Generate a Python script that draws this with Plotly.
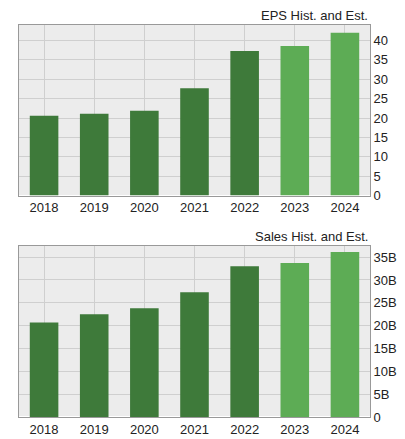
import plotly.graph_objects as go
from plotly.subplots import make_subplots

years = ["2018","2019","2020","2021","2022","2023","2024"]
eps = [20.6, 21.1, 21.9, 27.7, 37.3, 38.6, 42.0]
sales = [20.7, 22.5, 23.8, 27.3, 33.0, 33.7, 36.1]
colors = ["#3e7a3a"]*5 + ["#5dac55"]*2

fig = make_subplots(rows=2, cols=1, vertical_spacing=0.12)
fig.add_trace(go.Bar(x=years, y=eps, marker=dict(color=colors, line=dict(width=0)), width=0.57), 1, 1)
fig.add_trace(go.Bar(x=years, y=sales, marker=dict(color=colors, line=dict(width=0)), width=0.57), 2, 1)

ax = dict(showgrid=True, gridcolor="#cfcfcf", showline=True, linecolor="#999", mirror=True,
          ticks="", tickfont=dict(family="Liberation Sans, Arial", size=13, color="#222"))
fig.update_xaxes(**ax)
fig.update_yaxes(**ax, side="right")
fig.update_layout(
    width=405, height=439, showlegend=False, paper_bgcolor="white", plot_bgcolor="#ececec",
    margin=dict(l=10, r=43, t=17, b=24),
    xaxis=dict(domain=[0,1]), yaxis=dict(domain=[0.565,1], range=[0,44], dtick=5),
    xaxis2=dict(domain=[0,1]), yaxis2=dict(domain=[0,0.437], range=[0,37.5], dtick=5,
        tickvals=[0,5,10,15,20,25,30,35], ticktext=["0","5B","10B","15B","20B","25B","30B","35B"]),
    annotations=[
        dict(text="EPS Hist. and Est.", xref="paper", yref="paper", x=1.0, y=1.0, yanchor="bottom",
             xanchor="right", showarrow=False, font=dict(family="Liberation Sans, Arial", size=13, color="#222")),
        dict(text="Sales Hist. and Est.", xref="paper", yref="paper", x=1.0, y=0.437, yanchor="bottom",
             xanchor="right", showarrow=False, font=dict(family="Liberation Sans, Arial", size=13, color="#222")),
    ])
fig.write_html("out.html")
